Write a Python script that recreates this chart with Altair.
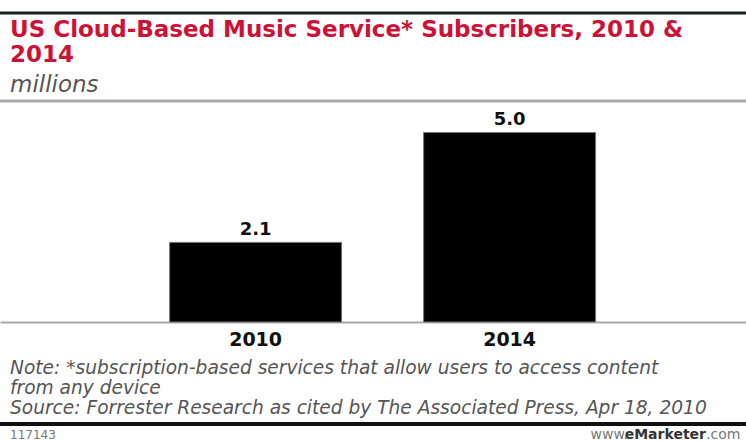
import altair as alt
import pandas as pd

years = ["2010", "2014"]
subscribers = [2.1, 5.0]

title_lines = ["US Cloud-Based Music Service* Subscribers, 2010 &", "2014"]
subtitle = "millions"
note_lines = [
    "Note: *subscription-based services that allow users to access content",
    "from any device",
    "Source: Forrester Research as cited by The Associated Press, Apr 18, 2010",
]
chart_id = "117143"
site_parts = ["www.", "eMarketer", ".com"]

df = pd.DataFrame({"year": years, "value": subscribers})

W, H = 746, 221
TOP = 101
FONT = "DejaVu Sans"

x_enc = alt.X(
    "year:N",
    sort=years,
    scale=alt.Scale(paddingInner=0.323, paddingOuter=0.63, align=0.53),
    axis=alt.Axis(
        title=None, labelAngle=0, ticks=False, labelPadding=8, grid=False,
        labelFont=FONT, labelFontSize=19, labelFontWeight="bold", labelColor="#111",
        domainColor="#aaa", domainWidth=2,
    ),
)
y_enc = alt.Y("value:Q", scale=alt.Scale(domain=[0, 5.83], nice=False), axis=None)

bars = alt.Chart(df).mark_bar(color="#000", stroke="#777", strokeWidth=1).encode(x=x_enc, y=y_enc)
labels = alt.Chart(df).mark_text(
    baseline="bottom", dy=-3, font=FONT, fontSize=18, fontWeight="bold", color="#111"
).encode(x=alt.X("year:N", sort=years), y=y_enc, text=alt.Text("value:Q", format=".1f"))

def txt(s, x, y, size, color, weight="normal", style="normal", align="left", baseline="middle"):
    return alt.Chart(pd.DataFrame({"t": [s]})).mark_text(
        align=align, baseline=baseline, font=FONT, fontSize=size, color=color,
        fontWeight=weight, fontStyle=style,
    ).encode(x=alt.value(x), y=alt.value(y - TOP), text="t:N")

def band(y, color, width):
    return alt.Chart(pd.DataFrame({"a": [0]})).mark_rect(color=color).encode(
        x=alt.value(0), x2=alt.value(W),
        y=alt.value(y - TOP - width / 2), y2=alt.value(y - TOP + width / 2),
    )

layers = [
    band(13, "#1c231f", 3),
    txt(title_lines[0], 10, 30, 23, "#cc1236", weight="bold"),
    txt(title_lines[1], 10, 55, 23, "#cc1236", weight="bold"),
    txt(subtitle, 10, 85, 23, "#555", style="italic"),
    band(101, "#a8a8a8", 3),
    bars,
    labels,
    txt(note_lines[0], 10, 368, 18.6, "#555", style="italic"),
    txt(note_lines[1], 10, 388, 18.6, "#555", style="italic"),
    txt(note_lines[2], 10, 408, 18.6, "#555", style="italic"),
    band(424, "#111", 4),
    txt(chart_id, 10, 435, 12, "#777"),
    txt(site_parts[0], 628, 435, 14, "#777", align="right"),
    txt(site_parts[1], 706, 435, 14, "#333", weight="bold", align="right"),
    txt(site_parts[2], 706, 435, 14, "#777"),
]

chart = alt.layer(*layers).properties(
    width=W, height=H,
    background="white",
    autosize=alt.AutoSizeParams(type="none"),
    padding={"left": 0, "top": TOP, "right": 0, "bottom": 441 - TOP - H},
).configure_view(stroke=None, strokeWidth=0)

chart.save("out.html", embed_options={"renderer": "svg", "actions": False})
